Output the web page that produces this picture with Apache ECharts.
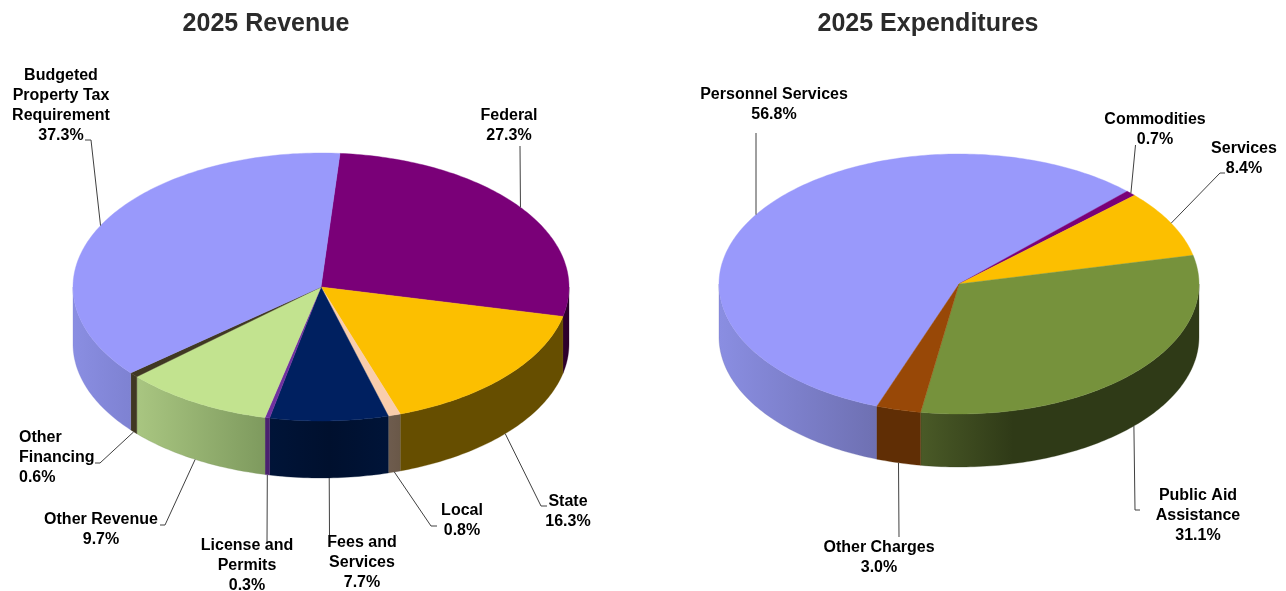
<!DOCTYPE html>
<html>
<head>
<meta charset="utf-8">
<title>2025 Revenue and Expenditures</title>
<style>
  html, body { margin: 0; padding: 0; background: #fff; }
  #main { width: 1286px; height: 591px; }
</style>
<script src="https://cdn.jsdelivr.net/npm/echarts@6/dist/echarts.min.js"></script>
</head>
<body>
<div id="main"></div>
<script>
// values, clockwise from the first slice
var revenueNames = ['Federal', 'State', 'Local', 'Fees and\nServices', 'License and\nPermits', 'Other Revenue', 'Other\nFinancing', 'Budgeted\nProperty Tax\nRequirement'];
var revenueValues = [27.3, 16.3, 0.8, 7.7, 0.3, 9.7, 0.6, 37.3];
var expenseNames = ['Personnel Services', 'Commodities', 'Services', 'Public Aid\nAssistance', 'Other Charges'];
var expenseValues = [56.8, 0.7, 8.4, 31.1, 3.0];

// slice colours, wall colours run left to right
var revenueTop = ['#7a0078', '#fcbf00', '#f9cdac', '#002060', '#7030a0', '#c2e38f', '#403822', '#9999fb'];
var revenueWall = [['#30002f', '#2c002b'], ['#664e00', '#664e00'], ['#6e5c4e', '#6a5848'], ['#001438', '#00102e', '#001438'], ['#4a2070', '#4a2070'], ['#a9c681', '#7e9a5e'], ['#403822', '#403822'], ['#8a8ee2', '#7e82d2']];
var expenseTop = ['#9999fb', '#7a0078', '#fcbf00', '#76923c', '#984807'];
var expenseWall = [['#8a8ee2', '#6e70b2'], ['#30002f', '#30002f'], ['#664e00', '#664e00'], ['#4a5a27', '#2f3a17', '#2f3a17', '#2f3a17'], ['#602e05', '#602e05']];

// pie geometry and label layout
var revenuePie = { cx: 321, cy: 287, rx: 248, ry: 134, depth: 57, start: 4.4 };
var expensePie = { cx: 959, cy: 284, rx: 240, ry: 130, depth: 53, start: 200 };
var revenueLabels = [
  { x: 509, y: 106, elbow: [[520, 146]] },
  { x: 568, y: 492, elbow: [[541, 506], [547, 506]] },
  { x: 462, y: 501, elbow: [[431, 526], [437, 526]] },
  { x: 362, y: 533, elbow: [[329.5, 537]] },
  { x: 247, y: 536, elbow: [[267, 542]] },
  { x: 101, y: 510, elbow: [[165, 525], [160, 525]] },
  { x: 19, y: 428, align: 'left', elbow: [[100, 463], [95, 463]] },
  { x: 61, y: 66, elbow: [[91, 140], [85, 140]] }
];
var expenseLabels = [
  { x: 774, y: 85, elbow: [[756, 133]] },
  { x: 1155, y: 110, elbow: [[1135.5, 145]] },
  { x: 1244, y: 139, elbow: [[1220, 173], [1225, 173]] },
  { x: 1198, y: 486, elbow: [[1135, 510], [1140, 510]] },
  { x: 879, y: 538, elbow: [[899, 537]] }
];

function rad(t) { return t * Math.PI / 180; }

// t = degrees clockwise from top of the ellipse
function rim(pie, t, drop) {
  return [pie.cx + pie.rx * Math.sin(rad(t)), pie.cy - pie.ry * Math.cos(rad(t)) + (drop || 0)];
}

function arc(pie, from, to, drop) {
  var pts = [];
  var n = Math.max(2, Math.ceil(Math.abs(to - from)));
  for (var i = 0; i <= n; i++) pts.push(rim(pie, from + (to - from) * i / n, drop));
  return pts;
}

function sliceAngles(values, start) {
  var total = values.reduce(function (a, b) { return a + b; }, 0);
  var acc = start;
  return values.map(function (v) {
    var from = acc;
    acc += v / total * 360;
    return [from, acc];
  });
}

// part of a slice that falls on the front half (90..270, also tried one turn on)
function frontPart(from, to) {
  for (var k = -1; k <= 1; k++) {
    var a = Math.max(from, 90 + 360 * k), b = Math.min(to, 270 + 360 * k);
    if (b > a) return [a, b];
  }
  return null;
}

function wallSeries(pie, values, walls) {
  var angles = sliceAngles(values, pie.start);
  return {
    type: 'custom', coordinateSystem: 'none', silent: true, z: 2,
    data: values,
    renderItem: function (params) {
      var part = frontPart(angles[params.dataIndex][0], angles[params.dataIndex][1]);
      if (!part) return { type: 'group', children: [] };
      var c = walls[params.dataIndex];
      var stops = c.map(function (col, j) { return { offset: j / (c.length - 1), color: col }; });
      var pts = arc(pie, part[0], part[1], 0).concat(arc(pie, part[1], part[0], pie.depth));
      return {
        type: 'polygon', shape: { points: pts },
        style: {
          fill: { type: 'linear', x: 0, y: 0, x2: 1, y2: 0, colorStops: stops },
          stroke: c[c.length - 1], lineWidth: 0.3
        }
      };
    }
  };
}

function topSeries(pie, values, colors) {
  var angles = sliceAngles(values, pie.start);
  return {
    type: 'custom', coordinateSystem: 'none', silent: true, z: 3,
    data: values,
    renderItem: function (params) {
      var a = angles[params.dataIndex];
      var color = colors[params.dataIndex];
      return {
        type: 'polygon',
        shape: { points: [[pie.cx, pie.cy]].concat(arc(pie, a[0], a[1], 0)) },
        style: { fill: color, stroke: color, lineWidth: 0.4 }
      };
    }
  };
}

function labelSeries(pie, values, names, labels) {
  var angles = sliceAngles(values, pie.start);
  return {
    type: 'custom', coordinateSystem: 'none', silent: true, z: 4,
    data: values,
    renderItem: function (params, api) {
      var i = params.dataIndex;
      var mid = (angles[i][0] + angles[i][1]) / 2;
      var front = Math.cos(rad(mid)) < 0;
      var lab = labels[i];
      var line = [rim(pie, mid, front ? pie.depth : 0)].concat(lab.elbow);
      return {
        type: 'group',
        children: [
          { type: 'polyline', shape: { points: line }, style: { fill: 'none', stroke: '#404040', lineWidth: 1 } },
          {
            type: 'text',
            style: {
              x: lab.x, y: lab.y,
              text: names[i] + '\n' + api.value(0).toFixed(1) + '%',
              align: lab.align || 'center', verticalAlign: 'top',
              font: 'bold 16px "Liberation Sans", Arial, sans-serif',
              lineHeight: 20, fill: '#000'
            }
          }
        ]
      };
    }
  };
}

var chart = echarts.init(document.getElementById('main'), null, { renderer: 'canvas' });
chart.setOption({
  animation: false,
  backgroundColor: '#fff',
  title: [
    { text: '2025 Revenue', left: 261, top: 7, textAlign: 'center', textStyle: { fontFamily: '"Liberation Sans", Arial, sans-serif', fontSize: 25, fontWeight: 'bold', color: '#2b2b2b' } },
    { text: '2025 Expenditures', left: 923, top: 7, textAlign: 'center', textStyle: { fontFamily: '"Liberation Sans", Arial, sans-serif', fontSize: 25, fontWeight: 'bold', color: '#2b2b2b' } }
  ],
  series: [
    wallSeries(revenuePie, revenueValues, revenueWall),
    topSeries(revenuePie, revenueValues, revenueTop),
    labelSeries(revenuePie, revenueValues, revenueNames, revenueLabels),
    wallSeries(expensePie, expenseValues, expenseWall),
    topSeries(expensePie, expenseValues, expenseTop),
    labelSeries(expensePie, expenseValues, expenseNames, expenseLabels)
  ]
});
</script>
</body>
</html>
